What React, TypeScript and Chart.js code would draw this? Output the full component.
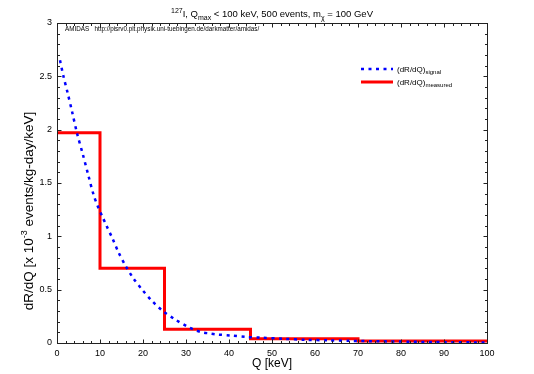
import React, { useEffect, useRef } from "react";
import { Chart, registerables } from "chart.js";

Chart.register(...registerables);

// ---- data ----
const signalQ = [0.7, 1.5, 2.5, 3.5, 4.7, 6, 7.3, 8.5, 9.5, 10.5, 11.5, 12.9, 14.3, 16, 17.7, 19.8, 22.2, 24.6, 27.5, 30.5, 32.2, 33.7, 35.4, 37.2, 40.6, 44.1, 47.5, 52.6, 57.9, 63, 68, 75, 82, 90, 100];
const signalR = [2.65, 2.5, 2.34, 2.17, 1.96, 1.77, 1.57, 1.39, 1.28, 1.19, 1.1, 0.98, 0.85, 0.72, 0.61, 0.5, 0.39, 0.3, 0.22, 0.15, 0.12, 0.1, 0.09, 0.08, 0.07, 0.056, 0.05, 0.04, 0.03, 0.025, 0.02, 0.016, 0.012, 0.008, 0.005];
const binEdges = [0, 10, 25, 45, 70, 100];
const binValues = [1.97, 0.7, 0.13, 0.04, 0.018];
const xTicks = [0, 10, 20, 30, 40, 50, 60, 70, 80, 90, 100];
const yTicks = [0, 0.5, 1, 1.5, 2, 2.5, 3];
const titleParts = [
  { t: "127", s: "sup" },
  { t: "I, Q", s: "" },
  { t: "max", s: "sub" },
  { t: " < 100 keV, 500 events, m", s: "" },
  { t: "χ", s: "sub" },
  { t: " = 100 GeV", s: "" },
];
const yTitleParts = [
  { t: "dR/dQ [x 10", s: "" },
  { t: "-3", s: "sup" },
  { t: " events/kg-day/keV]", s: "" },
];
const xTitle = "Q [keV]";
const noteText = "AMIDAS   http://pisrv0.pit.physik.uni-tuebingen.de/darkmatter/amidas/";
const legendMain = ["(dR/dQ)", "(dR/dQ)"];
const legendSub = ["signal", "measured"];

const FONT = "'Liberation Sans', Arial, Helvetica, sans-serif";

function drawRich(ctx: CanvasRenderingContext2D, parts: { t: string; s: string }[], x: number, y: number, size: number, small: number, align: "center" | "left") {
  const widths = parts.map((p) => {
    ctx.font = `${p.s ? small : size}px ${FONT}`;
    return ctx.measureText(p.t).width;
  });
  const total = widths.reduce((a, b) => a + b, 0);
  let cx = align === "center" ? x - total / 2 : x;
  ctx.textAlign = "left";
  ctx.textBaseline = "alphabetic";
  parts.forEach((p, i) => {
    ctx.font = `${p.s ? small : size}px ${FONT}`;
    const dy = p.s === "sup" ? -size * 0.42 : p.s === "sub" ? size * 0.3 : 0;
    ctx.fillText(p.t, cx, y + dy);
    cx += widths[i];
  });
}

const decorPlugin = {
  id: "decor",
  afterDraw(chart: any) {
    const ctx: CanvasRenderingContext2D = chart.ctx;
    const area = chart.chartArea;
    const xs = chart.scales.x;
    const ys = chart.scales.y;
    ctx.save();
    // frame
    ctx.strokeStyle = "#222";
    ctx.lineWidth = 1;
    const L = Math.round(area.left) + 0.5;
    const R = Math.round(area.right) + 0.5;
    const T = Math.round(area.top) + 0.5;
    const B = Math.round(area.bottom) + 0.5;
    ctx.strokeRect(L, T, R - L, B - T);
    // inward ticks
    ctx.beginPath();
    for (let v = 0; v <= 100.001; v += 2) {
      const px = Math.round(xs.getPixelForValue(v)) + 0.5;
      const len = Math.abs(v % 10) < 0.01 ? 4 : 2.5;
      ctx.moveTo(px, B);
      ctx.lineTo(px, B - len);
      ctx.moveTo(px, T);
      ctx.lineTo(px, T + len);
    }
    for (let i = 0; i <= 30; i++) {
      const v = i / 10;
      const py = Math.round(ys.getPixelForValue(v)) + 0.5;
      const len = i % 5 === 0 ? 4 : 2.5;
      ctx.moveTo(L, py);
      ctx.lineTo(L + len, py);
      ctx.moveTo(R, py);
      ctx.lineTo(R - len, py);
    }
    ctx.stroke();

    ctx.fillStyle = "#000";
    // title
    drawRich(ctx, titleParts, (area.left + area.right) / 2, 17, 9.5, 7, "center");
    // x title
    ctx.font = `12px ${FONT}`;
    ctx.textAlign = "center";
    ctx.textBaseline = "alphabetic";
    ctx.fillText(xTitle, (area.left + area.right) / 2, 367);
    // y title
    ctx.save();
    ctx.translate(33, 211);
    ctx.rotate(-Math.PI / 2);
    drawRich(ctx, yTitleParts, 0, 0, 13.5, 9, "center");
    ctx.restore();
    // note
    ctx.font = `6.3px ${FONT}`;
    ctx.textAlign = "left";
    ctx.fillText(noteText, 65, 31);
    // legend
    const ds = chart.data.datasets;
    const rows = [69, 82];
    rows.forEach((y, i) => {
      const d = ds[i];
      ctx.save();
      ctx.strokeStyle = d.borderColor;
      ctx.lineWidth = d.borderWidth;
      ctx.setLineDash(d.borderDash || []);
      ctx.beginPath();
      ctx.moveTo(361, y);
      ctx.lineTo(393, y);
      ctx.stroke();
      ctx.restore();
      drawRich(ctx, [{ t: legendMain[i], s: "" }, { t: legendSub[i], s: "sub" }], 397, y + 3, 8, 6, "left");
    });
    ctx.restore();
  },
};

export default function App() {
  const ref = useRef<HTMLCanvasElement>(null);
  useEffect(() => {
    if (!ref.current) return;
    const stepData = binEdges.map((e, i) => ({ x: e, y: binValues[Math.min(i, binValues.length - 1)] }));
    const chart = new Chart(ref.current, {
      type: "line",
      data: {
        datasets: [
          {
            label: "signal",
            data: signalQ.map((q, i) => ({ x: q, y: signalR[i] })),
            borderColor: "#0000ff",
            borderWidth: 2.5,
            borderDash: [3, 4.5],
            pointRadius: 0,
            tension: 0.3,
            fill: false,
          },
          {
            label: "measured",
            data: stepData,
            borderColor: "#ff0000",
            borderWidth: 3,
            pointRadius: 0,
            stepped: "before",
            fill: false,
          },
        ],
      },
      options: {
        responsive: false,
        animation: false,
        devicePixelRatio: 1,
        layout: { padding: { left: 0, right: 47, top: 23, bottom: 0 } },
        plugins: { legend: { display: false }, tooltip: { enabled: false }, title: { display: false } },
        scales: {
          x: {
            type: "linear",
            min: 0,
            max: 100,
            afterBuildTicks: (s: any) => {
              s.ticks = xTicks.map((v) => ({ value: v }));
            },
            afterFit: (s: any) => {
              s.height = 31;
            },
            ticks: { color: "#000", font: { size: 9, family: FONT }, padding: 5, maxRotation: 0, autoSkip: false },
            grid: { display: false, drawTicks: false },
            border: { display: false },
          },
          y: {
            min: 0,
            max: 3,
            afterBuildTicks: (s: any) => {
              s.ticks = yTicks.map((v) => ({ value: v }));
            },
            afterFit: (s: any) => {
              s.width = 57;
            },
            ticks: { color: "#000", font: { size: 9, family: FONT }, padding: 5, callback: (v: any) => String(v) },
            grid: { display: false, drawTicks: false },
            border: { display: false },
          },
        },
      },
      plugins: [decorPlugin],
    });
    return () => chart.destroy();
  }, []);
  return (
    <div style={{ position: "absolute", left: 0, top: 0, width: 534, height: 374, background: "#fff" }}>
      <canvas ref={ref} width={534} height={374} />
    </div>
  );
}
